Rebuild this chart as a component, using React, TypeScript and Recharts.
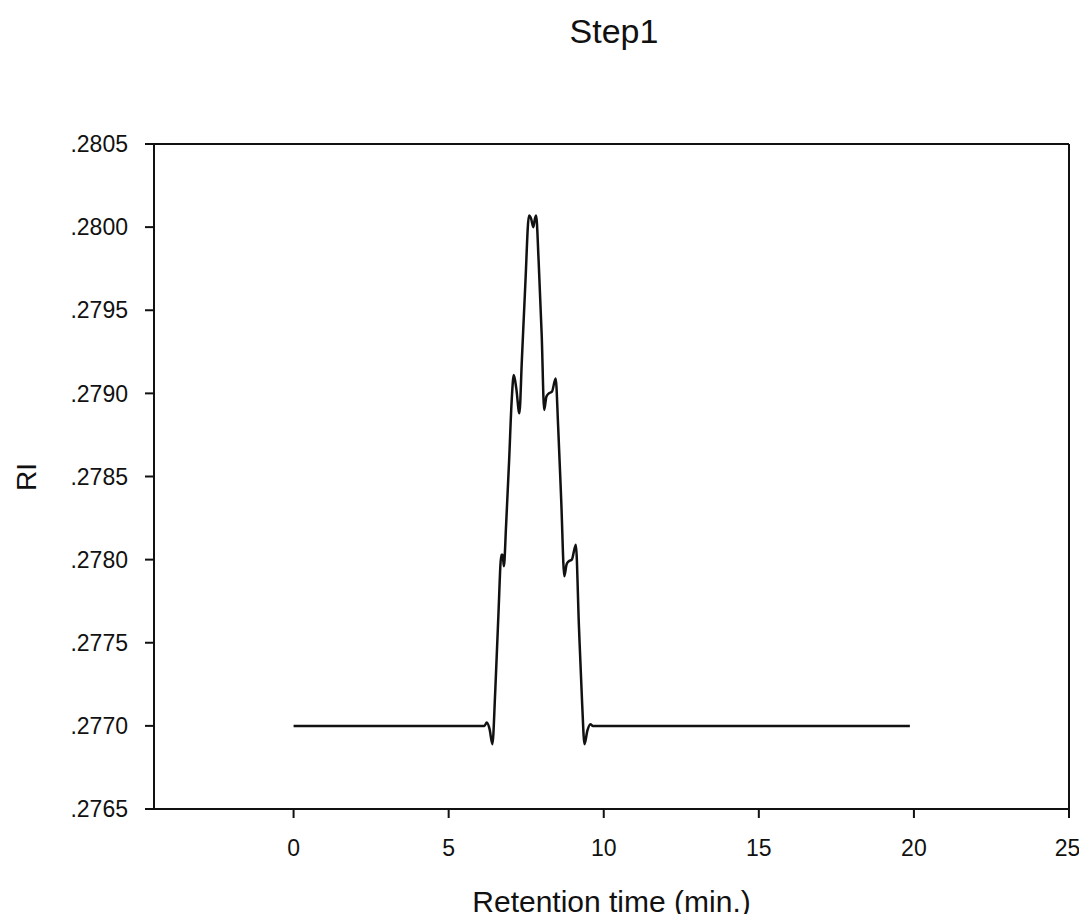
import React from 'react';
import { LineChart, Line, XAxis, YAxis, ReferenceLine, Label } from 'recharts';

// Retention time (min.)
const times = [
  0, 6.0, 6.15, 6.23, 6.32, 6.41, 6.5, 6.6, 6.7, 6.74, 6.78, 6.85, 6.95, 7.03, 7.1,
  7.18, 7.28, 7.36, 7.47, 7.59, 7.66, 7.73, 7.78, 7.82, 7.9, 8.0, 8.08, 8.15, 8.23,
  8.33, 8.45, 8.53, 8.63, 8.73, 8.8, 8.87, 8.97, 9.1, 9.2, 9.3, 9.38, 9.47, 9.57,
  9.65, 9.73, 19.87,
];
// RI signal
const riValues = [
  0.277, 0.277, 0.277, 0.27702, 0.27698, 0.27689, 0.2772, 0.27765, 0.27803, 0.27803,
  0.27796, 0.2782, 0.2786, 0.27895, 0.27911, 0.27903, 0.27888, 0.2792, 0.27965,
  0.28007, 0.28005, 0.28, 0.28005, 0.28007, 0.2798, 0.27935, 0.2789, 0.27898, 0.279,
  0.27901, 0.27909, 0.2788, 0.27835, 0.2779, 0.27797, 0.27799, 0.278, 0.27809,
  0.2776, 0.27715, 0.27689, 0.27697, 0.27701, 0.277, 0.277, 0.277,
];
const xTicks = [0, 5, 10, 15, 20, 25];
const yTicks = [0.2765, 0.277, 0.2775, 0.278, 0.2785, 0.279, 0.2795, 0.28, 0.2805];

const data = times.map((t, i) => ({ t, ri: riValues[i] }));

const FONT = '"Liberation Sans", Arial, sans-serif';
const INK = '#111';

export default function App() {
  const W = 1071;
  const H = 906;
  return (
    <div style={{ position: 'relative', width: W, height: H, fontFamily: FONT }}>
      <style>{'svg.recharts-surface { overflow: visible; }'}</style>
      <div
        style={{
          position: 'absolute',
          left: 606,
          top: 6,
          transform: 'translateX(-50%)',
          fontSize: 34,
          lineHeight: 1,
          color: INK,
          whiteSpace: 'nowrap',
        }}
      >
        Step1
      </div>
      <div
        style={{
          position: 'absolute',
          left: 19,
          top: 469,
          transform: 'translate(-50%, -50%) rotate(-90deg)',
          fontSize: 28,
          lineHeight: 1,
          color: INK,
          whiteSpace: 'nowrap',
        }}
      >
        RI
      </div>
      <LineChart
        width={W}
        height={H}
        data={data}
        margin={{ top: 136, right: 10, bottom: 55, left: 36 }}
      >
        <XAxis
          dataKey="t"
          type="number"
          domain={[-4.5, 25]}
          ticks={xTicks}
          allowDataOverflow
          height={50}
          stroke={INK}
          strokeWidth={2}
          tickSize={9}
          tickMargin={22}
          tick={{ fill: INK, fontSize: 23, fontFamily: FONT }}
        >
          <Label
            value="Retention time (min.)"
            position="bottom"
            offset={32}
            style={{ fill: INK, fontSize: 30, fontFamily: FONT }}
          />
        </XAxis>
        <YAxis
          type="number"
          domain={[0.2765, 0.2805]}
          ticks={yTicks}
          allowDataOverflow
          width={110}
          stroke={INK}
          strokeWidth={2}
          tickSize={9}
          tickMargin={17}
          tick={{ fill: INK, fontSize: 23, fontFamily: FONT }}
          tickFormatter={(v: number) => v.toFixed(4).replace(/^0/, '')}
        />
        <ReferenceLine y={0.2805} stroke={INK} strokeWidth={2} ifOverflow="visible" />
        <ReferenceLine x={25} stroke={INK} strokeWidth={2} ifOverflow="visible" />
        <Line
          type="monotone"
          dataKey="ri"
          stroke={INK}
          strokeWidth={2.5}
          dot={false}
          activeDot={false}
          isAnimationActive={false}
        />
      </LineChart>
    </div>
  );
}
